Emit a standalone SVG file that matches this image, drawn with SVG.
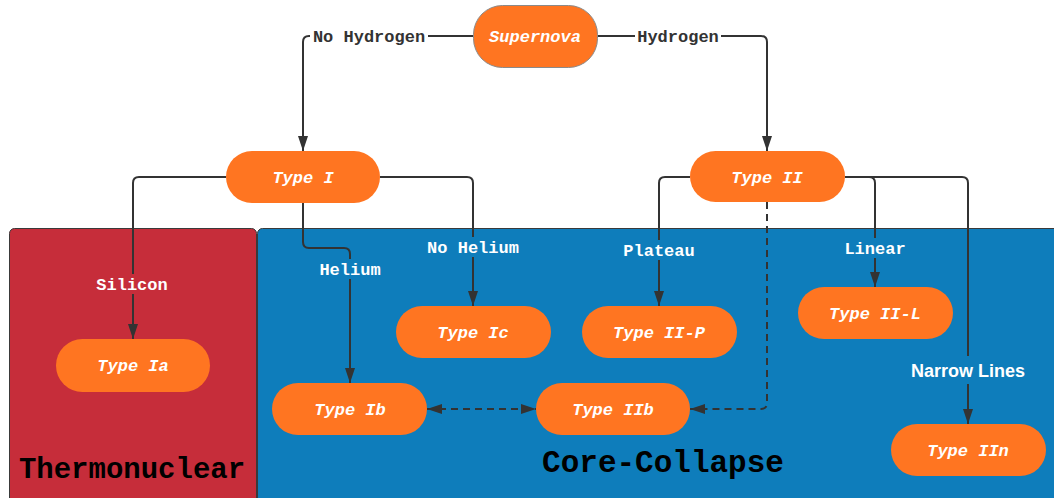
<svg xmlns="http://www.w3.org/2000/svg" width="1054" height="498" viewBox="0 0 1054 498">
<style>
.node rect{fill:#FF7521;}
.node text{font-family:"Liberation Mono",monospace;font-weight:bold;font-style:italic;font-size:17px;fill:#FFFFFF;text-anchor:middle;}
.edge{fill:none;stroke:#333333;stroke-width:2;}
.dash{stroke-dasharray:7 5;}
.lbl{font-family:"Liberation Mono",monospace;font-weight:bold;font-size:17px;text-anchor:middle;fill:#FFFFFF;}
.dark{fill:#333333;}
.title{font-family:"Liberation Mono",monospace;font-weight:bold;fill:#000000;text-anchor:middle;}
</style>
<defs>
<marker id="arr" markerUnits="userSpaceOnUse" markerWidth="15" markerHeight="10" refX="15" refY="5" orient="auto-start-reverse">
<path d="M0,0 L15,5 L0,10 z" fill="#333333"/>
</marker>
</defs>
<rect width="1054" height="498" fill="#FFFFFF"/>
<g id="containers">
<g id="thermonuclear">
<rect x="9.5" y="228.5" width="247" height="275" rx="5" fill="#C62D3A" stroke="#3a3a3a" stroke-width="1"/>
<text class="title" x="132" y="478" font-size="29">Thermonuclear</text>
</g>
<g id="core-collapse">
<rect x="257.5" y="228.5" width="805" height="275" rx="5" fill="#0E7DBB" stroke="#3a3a3a" stroke-width="1"/>
<text class="title" x="663" y="472" font-size="31">Core-Collapse</text>
</g>
</g>
<g id="connectors">
<path class="edge" d="M473,36 H309 Q303,36 303,42 V151" marker-end="url(#arr)"/>
<path class="edge" d="M597,36 H761 Q767,36 767,42 V151" marker-end="url(#arr)"/>
<path class="edge" d="M226,177 H139 Q133,177 133,183 V339" marker-end="url(#arr)"/>
<path class="edge" d="M303,203 V242 Q303,248 309,248 H344 Q350,248 350,254 V383" marker-end="url(#arr)"/>
<path class="edge" d="M380,177 H467 Q473,177 473,183 V306" marker-end="url(#arr)"/>
<path class="edge" d="M690,177 H665 Q659,177 659,183 V306" marker-end="url(#arr)"/>
<path class="edge" d="M845,177 H869 Q875,177 875,183 V287" marker-end="url(#arr)"/>
<path class="edge" d="M845,177 H962 Q968,177 968,183 V424" marker-end="url(#arr)"/>
<path class="edge dash" d="M767,202 V403 Q767,409 761,409 H690" marker-end="url(#arr)"/>
<path class="edge dash" d="M427,409 H536" marker-start="url(#arr)" marker-end="url(#arr)"/>
<g id="labels">
<rect x="310" y="26" width="118" height="20" fill="#FFFFFF"/>
<text class="lbl dark" x="369" y="42">No Hydrogen</text>
<rect x="635" y="26" width="86" height="20" fill="#FFFFFF"/>
<text class="lbl dark" x="678" y="42">Hydrogen</text>
<rect x="94" y="274" width="77" height="20" fill="#C62D3A"/>
<text class="lbl" x="132" y="290">Silicon</text>
<rect x="317" y="259" width="66" height="20" fill="#0E7DBB"/>
<text class="lbl" x="350" y="275">Helium</text>
<rect x="425" y="237" width="96" height="20" fill="#0E7DBB"/>
<text class="lbl" x="473" y="253">No Helium</text>
<rect x="621" y="240" width="76" height="20" fill="#0E7DBB"/>
<text class="lbl" x="659" y="256">Plateau</text>
<rect x="842" y="238" width="66" height="20" fill="#0E7DBB"/>
<text class="lbl" x="875" y="254">Linear</text>
<rect x="906" y="356" width="124" height="28" fill="#0E7DBB"/>
<text x="968" y="377" font-family="Liberation Sans, Arial, sans-serif" font-weight="bold" font-size="18" fill="#FFFFFF" text-anchor="middle">Narrow Lines</text>
</g>
</g>
<g id="supernova" class="node">
<rect x="473.5" y="5.5" width="124" height="62" rx="29" stroke="#8a8a8a" stroke-width="1"/>
<text x="535" y="42">Supernova</text>
</g>
<g id="type-i" class="node">
<rect x="226" y="151" width="154" height="52" rx="26"/>
<text x="303" y="183">Type I</text>
</g>
<g id="type-ii" class="node">
<rect x="690" y="151" width="155" height="51" rx="25.5"/>
<text x="767" y="183">Type II</text>
</g>
<g id="type-ia" class="node">
<rect x="56" y="339" width="154" height="53" rx="26.5"/>
<text x="133" y="371">Type Ia</text>
</g>
<g id="type-ib" class="node">
<rect x="272" y="383" width="155" height="52" rx="26"/>
<text x="350" y="415">Type Ib</text>
</g>
<g id="type-ic" class="node">
<rect x="396" y="306" width="155" height="52" rx="26"/>
<text x="473" y="338">Type Ic</text>
</g>
<g id="type-ii-p" class="node">
<rect x="582" y="306" width="155" height="52" rx="26"/>
<text x="659" y="338">Type II-P</text>
</g>
<g id="type-iib" class="node">
<rect x="536" y="383" width="154" height="52" rx="26"/>
<text x="613" y="415">Type IIb</text>
</g>
<g id="type-ii-l" class="node">
<rect x="798" y="287" width="155" height="52" rx="26"/>
<text x="875" y="319">Type II-L</text>
</g>
<g id="type-iin" class="node">
<rect x="891" y="424" width="155" height="52" rx="26"/>
<text x="968" y="456">Type IIn</text>
</g>
</svg>
